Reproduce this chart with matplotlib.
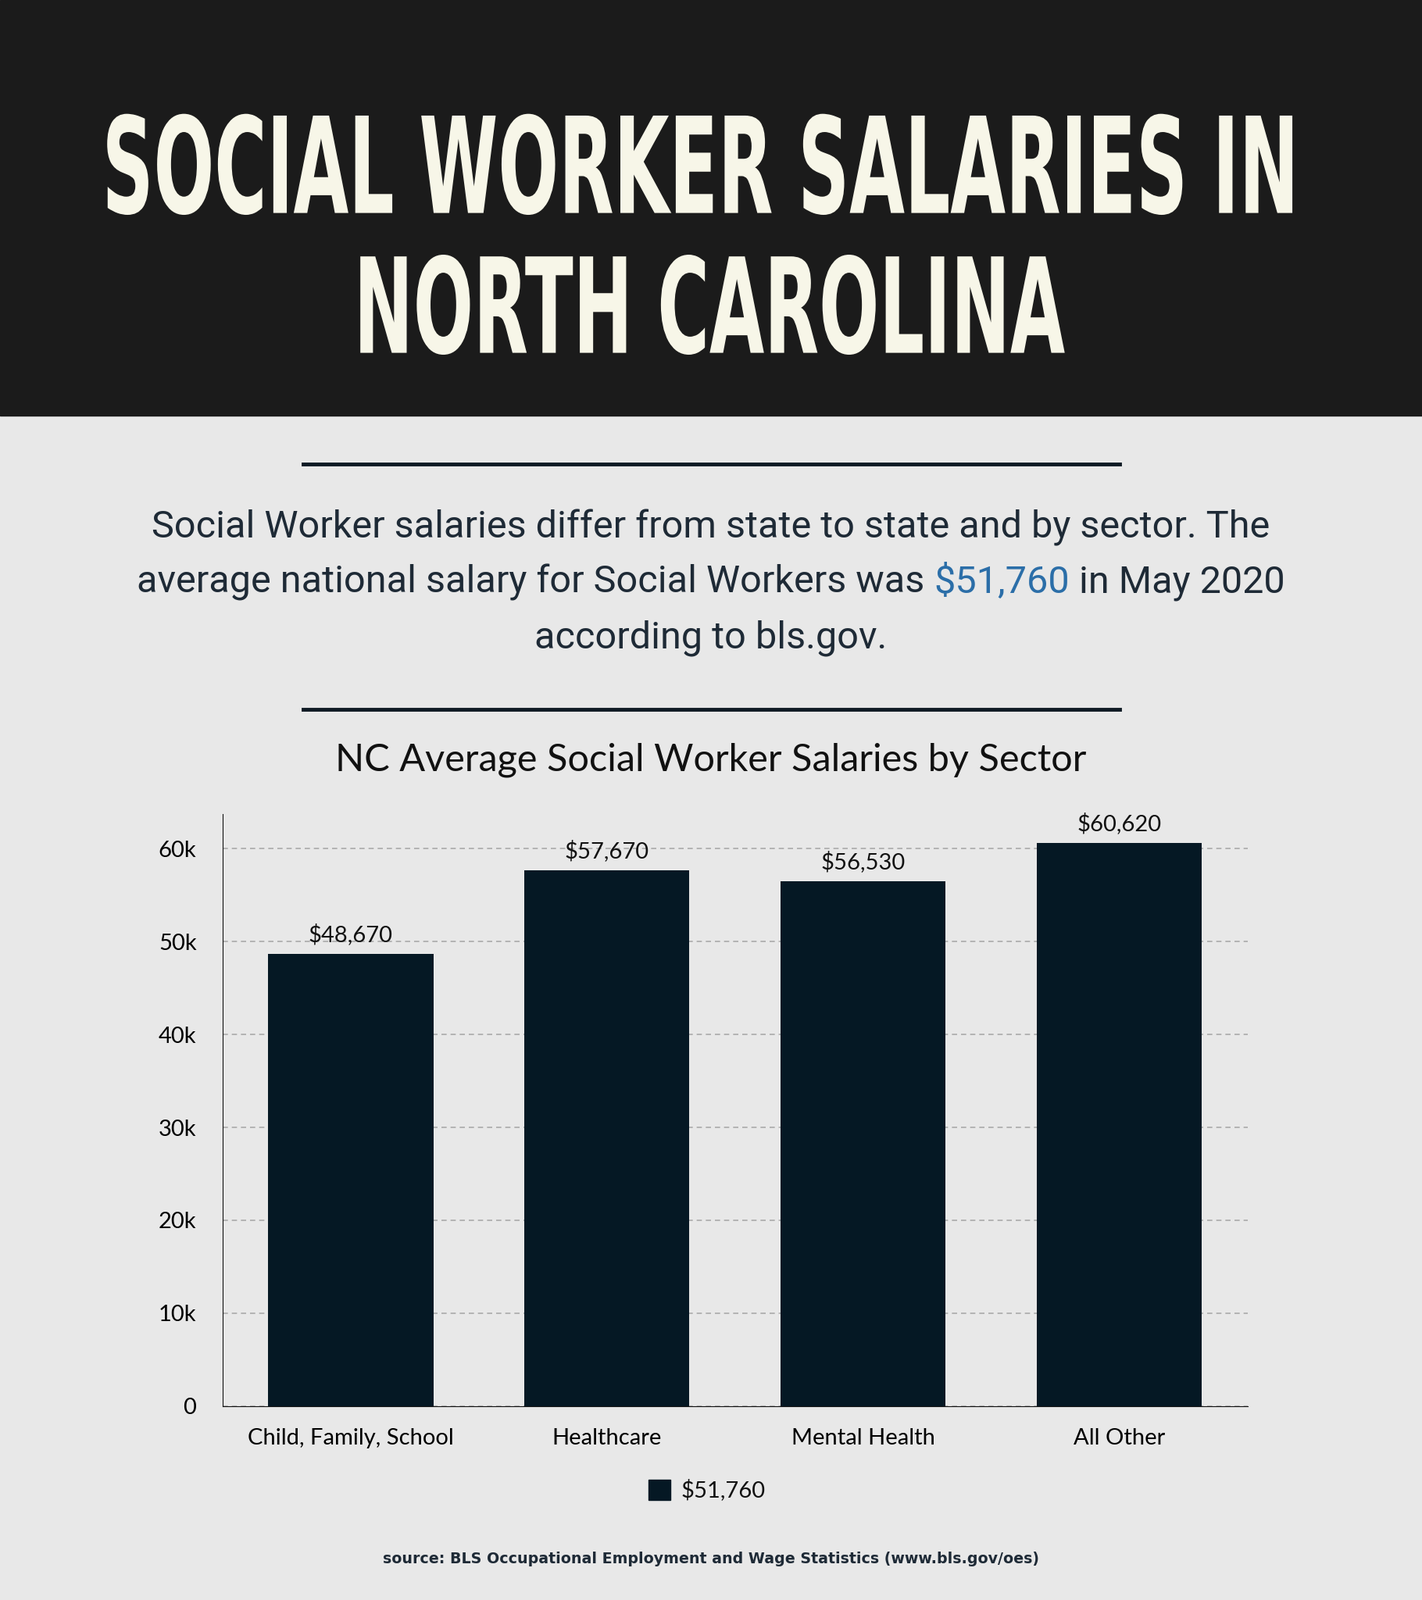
import matplotlib.pyplot as plt
from matplotlib.patches import Rectangle, PathPatch
from matplotlib.textpath import TextPath
from matplotlib.font_manager import FontProperties
from matplotlib.transforms import Affine2D

sectors = ["Child, Family, School", "Healthcare", "Mental Health", "All Other"]
salaries = [48670, 57670, 56530, 60620]
value_labels = ["$48,670", "$57,670", "$56,530", "$60,620"]
yticks = [0, 10000, 20000, 30000, 40000, 50000, 60000]
ytick_labels = ["0", "10k", "20k", "30k", "40k", "50k", "60k"]

W, H = 1393, 1568
S = 1820 / W
fig = plt.figure(figsize=(18.2, 20.48), dpi=100)
fig.patch.set_facecolor("#e8e8e8")

def fx(x): return x / W
def fy(y): return 1 - y / H

# header band
fig.patches.append(Rectangle((0, fy(407)), 1, 407 / H, transform=fig.transFigure,
                             color="#1b1b1b", zorder=0))

# condensed title drawn as scaled text paths (x0, x1, top, bottom in reference px)
fp = FontProperties(family="DejaVu Sans", weight="bold")
def title_line(s, x0, x1, top, bot):
    tp = TextPath((0, 0), s, size=100, prop=fp)
    ext = tp.get_extents()
    sx = (x1 - x0) * S / ext.width
    sy = (bot - top) * S / ext.height
    tr = (Affine2D().translate(-ext.x0, -ext.y0).scale(sx, sy)
          .translate(x0 * S, (H - bot) * S))
    fig.add_artist(PathPatch(tr.transform_path(tp), transform=None,
                             facecolor="#f7f6e8", edgecolor="none"))
title_line("SOCIAL WORKER SALARIES IN", 105, 1266, 112, 211)
title_line("NORTH CAROLINA", 353, 1043, 250, 348)

# divider lines
for y in (455, 695):
    fig.add_artist(plt.Line2D([fx(297), fx(1097)], [fy(y), fy(y)],
                              transform=fig.transFigure, color="#0f1a24", lw=3.5))

PF = 35
TXT = "#1e2a36"
para_kw = dict(ha="center", va="center", color=TXT, fontsize=PF, family="Roboto")
fig.text(0.5, fy(517), "Social Worker salaries differ from state to state and by sector. The", **para_kw)
p1 = "average national salary for Social Workers was "
p2 = "$51,760"
p3 = " in May 2020"
fig.canvas.draw()
r = fig.canvas.get_renderer()
def width(s):
    tt = fig.text(0, 0, s.replace("$", r"\$"), fontsize=PF, family="Roboto")
    w = tt.get_window_extent(r).width
    tt.remove()
    return w
tot = width(p1 + p2 + p3)
w1 = width(p1); w2 = width(p2)
x0 = 0.5 - tot / 2 / fig.bbox.width
lk = dict(ha="left", va="center", fontsize=PF, family="Roboto")
fig.text(x0, fy(571), p1, color=TXT, **lk)
fig.text(x0 + w1 / fig.bbox.width, fy(571), p2.replace("$", r"\$"), color="#2b6ea8", **lk)
fig.text(x0 + (w1 + w2) / fig.bbox.width, fy(571), p3, color=TXT, **lk)
fig.text(0.5, fy(625), "according to bls.gov.", **para_kw)

fig.text(0.5, fy(745), "NC Average Social Worker Salaries by Sector", ha="center", va="center",
         fontsize=35, family="Lato", color="#111111")

ax = fig.add_axes([fx(218), fy(1378), fx(1222) - fx(218), (1378 - 798) / H])
ax.set_facecolor("none")
ax.bar(range(len(sectors)), salaries, width=0.645, color="#051824", zorder=3)
for i, (v, lab) in enumerate(zip(salaries, value_labels)):
    ax.text(i, v + 900, lab.replace("$", r"\$"), ha="center", va="bottom", fontsize=21,
            family="Lato", color="#111111")
ax.set_xlim(-0.5, 3.5)
ax.set_ylim(0, 63700)
ax.set_yticks(yticks)
ax.set_yticklabels(ytick_labels)
ax.set_xticks(range(len(sectors)))
ax.set_xticklabels(sectors)
ax.tick_params(axis="x", length=0, labelsize=21, pad=20)
ax.tick_params(axis="y", length=0, labelsize=21, pad=24)
for lab in ax.get_xticklabels() + ax.get_yticklabels():
    lab.set_family("Lato")
ax.yaxis.grid(True, ls=(0, (4, 3)), color="#aaaaaa", lw=1.2, zorder=0)
for s in ("top", "right"):
    ax.spines[s].set_visible(False)
ax.spines["left"].set_color("#111111")
ax.spines["bottom"].set_color("#111111")

fig.patches.append(Rectangle((fx(635), fy(1470)), 22 / W, 20 / H, transform=fig.transFigure,
                             color="#051824"))
fig.text(fx(667), fy(1460), r"\$51,760", ha="left", va="center", fontsize=21, family="Lato",
         color="#111111")

fig.text(0.5, fy(1528), "source: BLS Occupational Employment and Wage Statistics (www.bls.gov/oes)",
         ha="center", va="center", fontsize=13.7, fontweight="bold", family="DejaVu Sans",
         color=TXT)

fig.savefig("out.png", dpi=100, facecolor=fig.get_facecolor())
